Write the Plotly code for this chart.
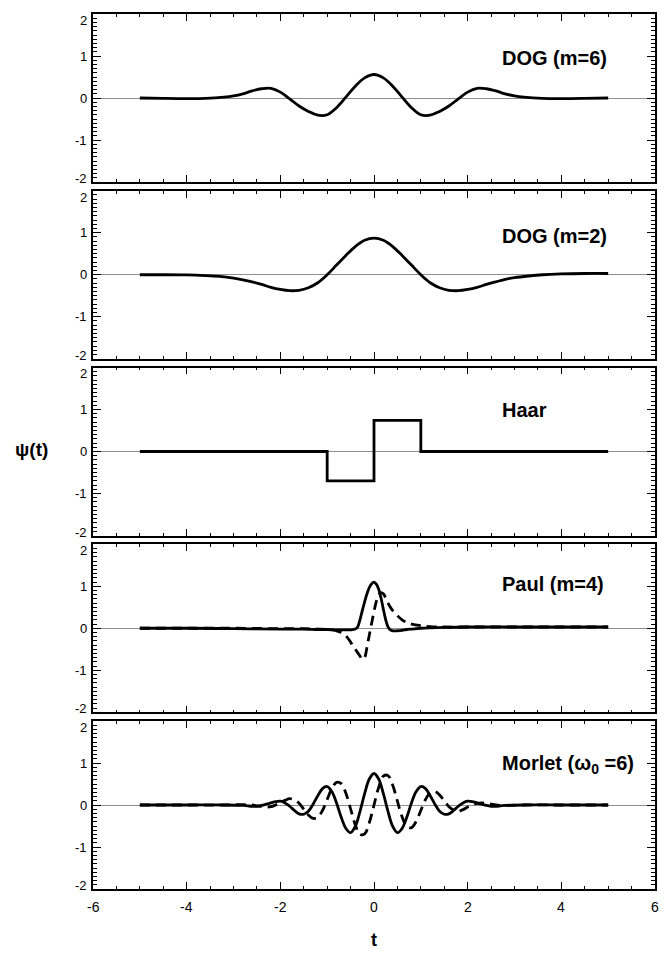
import plotly.graph_objects as go

# ---- DOG, m = 6 ----
t_dog6 = [-5.0, -4.5, -4.0, -3.6, -3.2, -3.0, -2.8, -2.6, -2.4, -2.2, -2.0, -1.8, -1.6, -1.4,
          -1.2, -1.0, -0.8, -0.6, -0.4, -0.2, 0.0, 0.2, 0.4, 0.6, 0.8, 1.0, 1.2, 1.4, 1.6, 1.8,
          2.0, 2.2, 2.4, 2.6, 2.8, 3.0, 3.2, 3.6, 4.0, 4.5, 5.0]
psi_dog6 = [0.0, -0.01, -0.015, -0.01, 0.02, 0.05, 0.10, 0.17, 0.22, 0.23, 0.14, -0.02, -0.19, -0.32,
            -0.41, -0.40, -0.23, 0.02, 0.28, 0.48, 0.56, 0.48, 0.28, 0.02, -0.23, -0.40, -0.41, -0.32,
            -0.19, -0.02, 0.14, 0.23, 0.22, 0.17, 0.10, 0.05, 0.02, -0.01, -0.015, -0.01, 0.0]

# ---- DOG, m = 2 ----
t_dog2 = [-5.0, -4.5, -4.0, -3.6, -3.3, -3.0, -2.8, -2.6, -2.4, -2.2, -2.0, -1.8, -1.6, -1.4,
          -1.2, -1.0, -0.8, -0.6, -0.4, -0.2, 0.0, 0.2, 0.4, 0.6, 0.8, 1.0, 1.2, 1.4, 1.6, 1.8,
          2.0, 2.2, 2.4, 2.6, 2.8, 3.0, 3.3, 3.6, 4.0, 4.5, 5.0]
psi_dog2 = [0.0, 0.0, -0.005, -0.02, -0.04, -0.08, -0.12, -0.17, -0.23, -0.30, -0.35, -0.38, -0.37, -0.31,
            -0.19, 0.0, 0.23, 0.46, 0.67, 0.82, 0.87, 0.82, 0.67, 0.46, 0.23, 0.0, -0.19, -0.31,
            -0.37, -0.38, -0.35, -0.30, -0.23, -0.17, -0.11, -0.07, -0.03, 0.0, 0.02, 0.03, 0.03]

# ---- Haar (step function) ----
t_haar = [-5.0, -1.0, 0.0, 1.0, 5.0]
psi_haar = [0.0, -0.70, 0.74, 0.0, 0.0]

# ---- Paul, m = 4 (real solid, imaginary dashed) ----
t_paul = [-5.0, -4.0, -3.0, -2.0, -1.5, -1.2, -1.0, -0.8, -0.7, -0.6,
          -0.5, -0.45, -0.4, -0.35, -0.3, -0.25, -0.2, -0.15, -0.1, -0.05,
          0.0, 0.05, 0.1, 0.15, 0.2, 0.25, 0.3, 0.35, 0.4, 0.5,
          0.6, 0.7, 0.8, 1.0, 1.2, 1.5, 2.0, 3.0, 4.0, 5.0]
re_paul = [0.0, 0.0, -0.01, -0.02, -0.02, -0.03, -0.03, -0.04, -0.04, -0.04,
           -0.04, -0.03, -0.02, 0.03, 0.20, 0.42, 0.63, 0.82, 0.97, 1.06,
           1.10, 1.05, 0.93, 0.72, 0.45, 0.20, 0.03, -0.04, -0.06, -0.06,
           -0.05, -0.03, -0.02, 0.0, 0.01, 0.02, 0.03, 0.03, 0.03, 0.03]
im_paul = [0.0, 0.0, 0.0, -0.01, -0.01, -0.02, -0.03, -0.06, -0.10, -0.18,
           -0.33, -0.42, -0.50, -0.58, -0.66, -0.74, -0.70, -0.45, -0.16, 0.12,
           0.40, 0.64, 0.80, 0.85, 0.82, 0.72, 0.60, 0.50, 0.42, 0.30,
           0.20, 0.14, 0.10, 0.06, 0.04, 0.03, 0.03, 0.03, 0.03, 0.03]

# ---- Morlet, w0 = 6 (real solid, imaginary dashed) ----
t_morlet = [-5.0, -4.0, -3.2, -2.8, -2.7, -2.6, -2.5, -2.4, -2.3, -2.2, -2.1, -2.0, -1.9, -1.8,
            -1.7, -1.6, -1.5, -1.4, -1.3, -1.2, -1.1, -1.0, -0.9, -0.8, -0.7, -0.6, -0.5, -0.4,
            -0.3, -0.2, -0.1, 0.0, 0.1, 0.2, 0.3, 0.4, 0.5, 0.6, 0.7, 0.8, 0.9, 1.0, 1.1, 1.2,
            1.3, 1.4, 1.5, 1.6, 1.7, 1.8, 1.9, 2.0, 2.1, 2.2, 2.3, 2.4, 2.5, 2.6, 2.7, 2.8,
            3.2, 4.0, 5.0]
re_morlet = [0.0, 0.0, 0.0, -0.01, -0.02, -0.03, -0.03, -0.01, 0.02, 0.05, 0.08, 0.09, 0.05, -0.03,
             -0.13, -0.21, -0.22, -0.15, 0.02, 0.22, 0.39, 0.44, 0.32, 0.05, -0.29, -0.56, -0.66, -0.51,
             -0.16, 0.27, 0.62, 0.75, 0.62, 0.27, -0.16, -0.51, -0.66, -0.56, -0.29, 0.05, 0.32, 0.44,
             0.39, 0.22, 0.02, -0.15, -0.22, -0.21, -0.13, -0.03, 0.05, 0.09, 0.08, 0.05, 0.02, -0.01,
             -0.03, -0.03, -0.02, -0.01, 0.0, 0.0, 0.0]
im_morlet = [0.0, 0.0, 0.0, 0.01, 0.01, 0.00, -0.02, -0.04, -0.05, -0.04, 0.00, 0.05, 0.11, 0.15,
             0.12, 0.04, -0.10, -0.24, -0.32, -0.29, -0.13, 0.13, 0.39, 0.54, 0.51, 0.28, -0.09, -0.47,
             -0.70, -0.69, -0.42, 0.0, 0.42, 0.69, 0.70, 0.47, 0.09, -0.28, -0.51, -0.54, -0.39, -0.13,
             0.13, 0.29, 0.32, 0.24, 0.10, -0.04, -0.12, -0.15, -0.11, -0.05, 0.00, 0.04, 0.05, 0.04,
             0.02, 0.00, -0.01, -0.01, 0.0, 0.0, 0.0]

# panel titles and axis labels
panel_titles = ["DOG (m=6)", "DOG (m=2)", "Haar", "Paul (m=4)", "Morlet (\u03c9<sub>0</sub> =6)"]
title_levels = [0.95, 0.93, 1.0, 1.05, 0.97]
x_tickvals = [-6, -4, -2, 0, 2, 4, 6]
x_ticktext = ["-6", "-4", "-2", "0", "2", "4", "6"]
y_ticktext = ["-2", "-1", "0", "1", "2"]
# label anchors: the end labels sit just inside the frame
y_labelpos = [-1.92, -1, 0, 1, 1.85]

# each panel: list of (t, values, dash, shape)
panels = [
    [(t_dog6, psi_dog6, "solid", "spline")],
    [(t_dog2, psi_dog2, "solid", "spline")],
    [(t_haar, psi_haar, "solid", "hv")],
    [(t_paul, im_paul, "10px,6px", "spline"), (t_paul, re_paul, "solid", "spline")],
    [(t_morlet, im_morlet, "10px,6px", "spline"), (t_morlet, re_morlet, "solid", "spline")],
]

FONT = "Liberation Sans, Arial, Helvetica, sans-serif"
LW = 2.8

fig = go.Figure()
n = len(panels)
gap = 0.01
h = (1 - gap * (n - 1)) / n

layout = {}
annotations = []
for i, series in enumerate(panels):
    k = "" if i == 0 else str(i + 1)
    xa, ya = "x" + k, "y" + k
    for t, v, dash, shape in series:
        line = dict(color="black", width=LW, dash=dash, shape=shape)
        if shape == "spline":
            line["smoothing"] = 1.0
        fig.add_trace(go.Scatter(x=t, y=v, mode="lines", line=line,
                                 xaxis=xa, yaxis=ya, showlegend=False,
                                 hoverinfo="skip"))
    top = min(1.0, 1 - i * (h + gap))
    bottom = max(0.0, round(top - h, 6))
    layout["xaxis" + k] = dict(
        range=[-6, 6], domain=[0, 1], anchor=ya,
        showline=True, linecolor="black", linewidth=1.5, mirror="allticks",
        tickmode="linear", tick0=0, dtick=2,
        ticks="inside", ticklen=7, tickwidth=1.2, tickcolor="black",
        showticklabels=False,
        showgrid=False, zeroline=False,
        minor=dict(ticks="inside", ticklen=3, tickmode="linear", tick0=0, dtick=0.5,
                   tickcolor="black", tickwidth=1, showgrid=False),
    )
    layout["yaxis" + k] = dict(
        range=[-2, 2], domain=[bottom, round(top, 6)], anchor=xa,
        showline=True, linecolor="black", linewidth=1.5, mirror="allticks",
        tickmode="linear", tick0=0, dtick=1,
        ticks="inside", ticklen=8, tickwidth=1.2, tickcolor="black",
        showticklabels=False,
        showgrid=False, zeroline=True, zerolinecolor="#8f8f8f", zerolinewidth=1,
        minor=dict(ticks="inside", ticklen=4, tickmode="linear", tick0=0, dtick=0.1,
                   tickcolor="black", tickwidth=1, showgrid=False),
    )
    # y tick labels of this panel
    for txt, pos in zip(y_ticktext, y_labelpos):
        annotations.append(dict(
            x=0, y=pos, xref="paper", yref=ya, text=txt, showarrow=False,
            xanchor="right", yanchor="middle", xshift=-4,
            font=dict(family=FONT, size=13, color="black")))
    # panel title
    annotations.append(dict(
        x=2.68, y=title_levels[i], xref=xa, yref=ya, text="<b>" + panel_titles[i] + "</b>",
        showarrow=False, xanchor="left", yanchor="middle",
        font=dict(family=FONT, size=20, color="black")))

# x tick labels under the bottom panel
for xv, txt in zip(x_tickvals, x_ticktext):
    annotations.append(dict(
        x=xv, y=-0.021, xref="x5", yref="paper", text=txt, showarrow=False,
        xanchor="center", yanchor="middle",
        font=dict(family=FONT, size=14, color="black")))

annotations.append(dict(
    x=-0.11, y=0.502, xref="paper", yref="paper", text="<b>\u03c8(t)</b>",
    showarrow=False, xanchor="center", yanchor="middle",
    font=dict(family=FONT, size=19, color="black")))
annotations.append(dict(
    x=0, y=-0.058, xref="x5", yref="paper", text="<b>t</b>",
    showarrow=False, xanchor="center", yanchor="middle",
    font=dict(family=FONT, size=18, color="black")))

fig.update_layout(
    width=664, height=953,
    margin=dict(l=93, r=7, t=14, b=64),
    paper_bgcolor="white", plot_bgcolor="white",
    showlegend=False,
    annotations=annotations,
    **layout,
)

fig.write_html("out.html")
